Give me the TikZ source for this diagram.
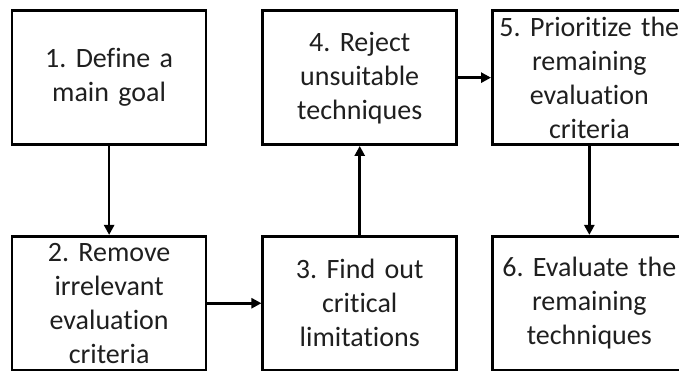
\documentclass[tikz,border=0pt]{standalone}
\usepackage{fontspec}
\setmainfont{Carlito}[Ligatures=CommonOff]
\usepackage{tikz}
\usetikzlibrary{matrix,arrows.meta}
\frenchspacing

\begin{document}
\begin{tikzpicture}[x=1pt,y=1pt,line width=2.6pt,>={Triangle[length=10pt,width=10pt]}]
						\useasboundingbox (0,0) rectangle (679,-370);
						\matrix(m) at (6.2,-4.7) [anchor=north west, matrix of nodes, nodes={draw, anchor=center, minimum width=194pt, minimum height=134pt, text width=190pt, align=center, inner sep=0pt, text=black!88, font=\fontsize{28}{34}\selectfont}, column sep=33pt, row sep=89pt]{
									{1. Define a\\main goal}	&[21pt]	{4. Reject\\unsuitable\\techniques}	&	{5. Prioritize the\\remaining\\evaluation\\criteria}	\\
									{2. Remove\\irrelevant\\evaluation\\criteria}	&	{3. Find out\\critical\\limitations}	&	{6. Evaluate the\\remaining\\techniques}	\\
						};
						\draw[->] (m-1-1) -- (m-2-1);
						\draw[->] (m-2-1) -- (m-2-2);
						\draw[->] (m-2-2) -- (m-1-2);
						\draw[->] (m-1-2) -- (m-1-3);
						\draw[->] (m-1-3) -- (m-2-3);
					\end{tikzpicture}
\end{document}
